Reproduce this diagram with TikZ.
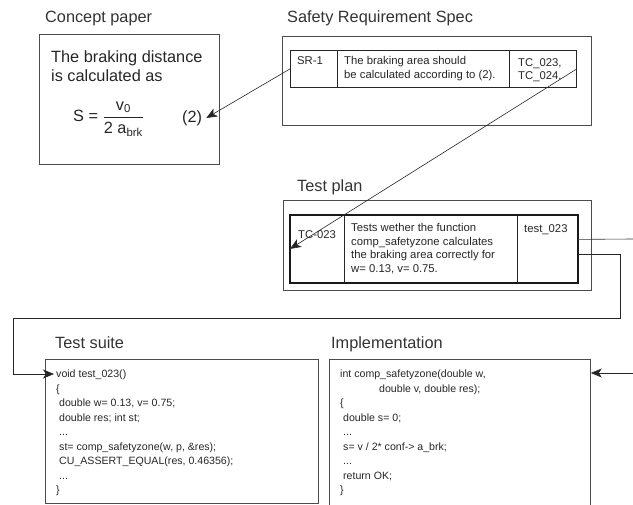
\documentclass[tikz,border=0pt]{standalone}
\usepackage{amsmath}
\usepackage{fontspec}
\setmainfont{Liberation Sans}
\usetikzlibrary{arrows.meta,positioning,calc}

\begin{document}
\begin{tikzpicture}[x=1pt, y={(0pt,-1pt)},
    title/.style={anchor=base west, inner sep=0pt, font=\fontsize{16.3}{19}\selectfont, text=black!80},
    panel/.style={draw=black!70, line width=0.8pt, anchor=north west, inner sep=0pt},
    cell/.style={draw=black!85, thick, anchor=north west, inner sep=0pt},
    celltext/.style={anchor=north west, inner sep=0pt, align=left, font=\fontsize{11.3}{13.7}\selectfont, text=black!85},
    code/.style={anchor=north west, inner sep=0pt, align=left, font=\fontsize{10.6}{14.5}\selectfont, text=black!85},
    arrow/.style={-{Stealth[length=11pt, width=9pt, inset=3pt]}, draw=black!85, line width=0.6pt},
    link/.style={draw=black!80, line width=0.6pt}
]
\clip (0,0) rectangle (633,505);

% Concept paper
\node[title] (cpT) at (45,23) {Concept paper};
\node[panel, minimum width=180, minimum height=130] (cp) at (39,34) {};
\node[anchor=north west, inner sep=0pt, align=left, font=\fontsize{16.3}{19.5}\selectfont, text=black!85] (cpText) at (51,50) {The braking distance\\is calculated as};
\node[anchor=west, inner sep=0pt, font=\fontsize{16.3}{19}\selectfont, text=black!85] (formula) at (73,119) {S = $\dfrac{\text{v}_{\text{0}}}{\text{2 a}_{\text{brk}}}$};
\node[anchor=west, inner sep=0pt, inner xsep=4pt, font=\fontsize{16.3}{19}\selectfont, text=black!85] (eq) at (178,118) {(2)};

% Safety Requirement Spec
\node[title] (srsT) at (287,23) {Safety Requirement Spec};
\node[panel, minimum width=309, minimum height=89] (srs) at (282,36) {};
\node[cell, minimum width=47, minimum height=37] (sr1) at (290,50) {};
\node[cell, minimum width=172, minimum height=37] (sr2) at (337,50) {};
\node[cell, minimum width=67, minimum height=37] (sr3) at (509,50) {};
\node[celltext] (sr1t) at ($(sr1.north west)+(7,6)$) {SR-1};
\node[celltext] (sr2t) at ($(sr2.north west)+(7,6)$) {The braking area should\\be calculated according to (2).};
\node[celltext] (sr3t) at ($(sr3.north west)+(9,8)$) {TC\_023,\\TC\_024.};

% Test plan
\node[title] (tpT) at (297,192) {Test plan};
\node[panel, minimum width=308, minimum height=90] (tp) at (283,200) {};
\node[cell, minimum width=54, minimum height=67] (tp1) at (290,215) {};
\node[cell, minimum width=173, minimum height=67] (tp2) at (344,215) {};
\node[cell, minimum width=60, minimum height=67] (tp3) at (517,215) {};
\draw[black!90, line width=1.5pt] (tp1.north west) rectangle (tp3.south east);
\node[celltext] (tp1t) at ($(tp1.north west)+(8,15)$) {TC-023};
\node[celltext] (tp2t) at ($(tp2.north west)+(7,8)$) {Tests wether the function\\comp\_safetyzone calculates\\the braking area correctly for\\w= 0.13, v= 0.75.};
\node[celltext] (tp3t) at ($(tp3.north west)+(7,9)$) {test\_023};

% Test suite
\node[title] (tsT) at (55,349) {Test suite};
\node[panel, minimum width=273, minimum height=144] (ts) at (45,359) {};
\node[code] (tsCode) at (56,370) {void test\_023()\\\{\\
  \hspace*{3pt}double w= 0.13, v= 0.75;\\
  \hspace*{3pt}double res; int st;\\
  \hspace*{3pt}...\\
  \hspace*{3pt}st= comp\_safetyzone(w, p, \&res);\\
  \hspace*{3pt}CU\_ASSERT\_EQUAL(res, 0.46356);\\
  \hspace*{3pt}...\\
  \}};

% Implementation
\node[title] (imT) at (331,349) {Implementation};
\node[panel, minimum width=261, minimum height=160] (im) at (329,359) {};
\node[code] (imCode) at (340,370) {int comp\_safetyzone(double w,\\
  \hspace*{39pt}double v, double res);\\\{\\
  \hspace*{3pt}double s= 0;\\
  \hspace*{3pt}...\\
  \hspace*{3pt}s= v / 2* conf-> a\_brk;\\
  \hspace*{3pt}...\\
  \hspace*{3pt}return OK;\\
  \}};

% Traces
\coordinate (toImpl) at (633,239);
\coordinate (fromPlan) at (633,373);
\draw[arrow] (sr1.west) -- (eq.east);
\draw[arrow] (sr3.east) -- (tp1.west);
\draw[link] ($(tp3.east)+(0,-9.5)$) -- (toImpl);
\draw[arrow] (fromPlan) -- (im.east |- fromPlan);
\draw[arrow] ($(tp3.east)+(0,5.5)$) -- ++(42,0) |- (13,318) |- ($(ts.north west)+(9,15)$);

\end{tikzpicture}
\end{document}
